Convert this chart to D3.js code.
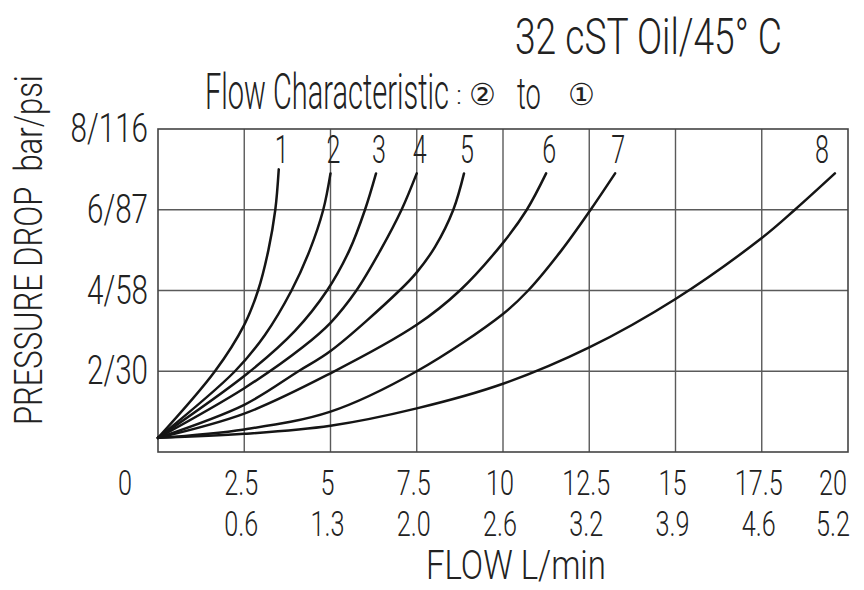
<!DOCTYPE html>
<html>
<head>
<meta charset="utf-8">
<script src="https://cdn.jsdelivr.net/npm/d3@7"></script>
<style>
  html, body { margin: 0; padding: 0; background: #fff; }
  svg { display: block; }
  text { font-family: Roboto, "DejaVu Sans", sans-serif; font-weight: 300; fill: #222; white-space: pre; }
</style>
</head>
<body>
<svg id="chart" width="864" height="590"></svg>
<script>
// ---- data ----
const titleLine1 = "32 cST Oil/45° C";
const titleLine2 = "Flow Characteristic";
const titlePorts = ["②", "to", "①"];
const yAxisTitle = "PRESSURE DROP\u00A0\u00A0bar/psi";
const xAxisTitle = "FLOW L/min";

const yTickValues = [8, 6, 4, 2];
const yTickLabels = ["8/116", "6/87", "4/58", "2/30"];
const xTickValues = [2.5, 5, 7.5, 10, 12.5, 15, 17.5, 20];
const xTickLabelsLpm = ["2.5", "5", "7.5", "10", "12.5", "15", "17.5", "20"];
const xTickLabelsGpm = ["0.6", "1.3", "2.0", "2.6", "3.2", "3.9", "4.6", "5.2"];

const curveNames = ["1", "2", "3", "4", "5", "6", "7", "8"];
// [flow L/min, pressure bar]
const curve1 = [[0,0.35],[1.65,2],[2.5,3.15],[2.9,4],[3.2,5],[3.4,6],[3.5,7.0]];
const curve2 = [[0,0.35],[2.23,2],[3.1,2.9],[3.87,4],[4.4,5],[4.79,6],[5.0,6.9]];
const curve3 = [[0,0.35],[2.6,1.95],[3.97,3],[4.9,4],[5.55,5],[6.0,6],[6.32,6.9]];
const curve4 = [[0,0.35],[2.5,1.58],[4.2,2.6],[5.0,3.2],[5.75,4],[6.45,5],[7.06,6],[7.5,6.9]];
const curve5 = [[0,0.35],[2.5,1.17],[4.07,2],[5.0,2.5],[7.0,4],[7.5,4.45],[8.03,5.08],[8.56,6],[8.87,6.9]];
const curve6 = [[0,0.35],[2.5,0.95],[5.0,1.95],[7.5,3.15],[8.75,4],[10.0,5.18],[10.69,6],[11.25,6.9]];
const curve7 = [[0,0.35],[2.5,0.56],[5.0,1.0],[7.5,2.0],[10.0,3.42],[10.73,4],[11.7,5],[12.54,6],[13.25,6.9]];
const curve8 = [[0,0.35],[2.5,0.45],[5.0,0.65],[7.5,1.08],[10.0,1.69],[12.5,2.59],[15.0,3.79],[17.5,5.3],[18.46,6],[19.62,6.9]];
const curves = [curve1, curve2, curve3, curve4, curve5, curve6, curve7, curve8];

// ---- layout ----
const svg = d3.select("#chart");
const x = d3.scaleLinear().domain([0, 20]).range([158, 848]);
const y = d3.scaleLinear().domain([0, 8]).range([452, 129]);

function label(g, str, px, py, size, sx, anchor) {
  return g.append("text")
    .attr("transform", `translate(${px},${py}) scale(${sx},1)`)
    .attr("text-anchor", anchor || "middle")
    .attr("font-size", size)
    .text(str);
}
// text squeezed horizontally to a target width (start-anchored)
function fitted(g, str, px, py, size, width, rotate) {
  const t = g.append("text").attr("font-size", size).text(str);
  const w = t.node().getComputedTextLength();
  const sx = width / w;
  t.attr("transform", `translate(${px},${py})${rotate ? " rotate(-90)" : ""} scale(${sx},1)`);
  return t;
}

// grid
const grid = svg.append("g").attr("stroke", "#5a5a5a").attr("stroke-width", 1.4);
grid.selectAll("line.v").data(xTickValues.filter(v => v < 20)).join("line")
  .attr("class", "v")
  .attr("x1", d => x(d)).attr("x2", d => x(d))
  .attr("y1", y(0)).attr("y2", y(8));
grid.selectAll("line.h").data(yTickValues.filter(v => v < 8)).join("line")
  .attr("class", "h")
  .attr("x1", x(0)).attr("x2", x(20))
  .attr("y1", d => y(d)).attr("y2", d => y(d));
svg.append("rect")
  .attr("x", x(0)).attr("y", y(8))
  .attr("width", x(20) - x(0)).attr("height", y(0) - y(8))
  .attr("fill", "none").attr("stroke", "#444").attr("stroke-width", 1.6);

// curves
const line = d3.line().x(d => x(d[0])).y(d => y(d[1])).curve(d3.curveCatmullRom.alpha(0.5));
svg.append("g").selectAll("path").data(curves).join("path")
  .attr("d", line)
  .attr("fill", "none").attr("stroke", "#151515").attr("stroke-width", 2.5)
  .attr("stroke-linecap", "round");

// curve labels
const cl = svg.append("g");
curves.forEach((c, i) => {
  const last = c[c.length - 1];
  const lx = Math.min(x(last[0]) + 3, x.range()[1] - 26);
  label(cl, curveNames[i], lx, 163, 38, 0.66);
});

// y tick labels
const yl = svg.append("g");
yTickValues.forEach((v, i) => {
  label(yl, yTickLabels[i], 148, y(v) + 13, 40, 0.74, "end");
});

// x tick labels
const xl = svg.append("g");
xTickValues.forEach((v, i) => {
  const px = Math.min(x(v), x.range()[1] - 12);
  label(xl, xTickLabelsLpm[i], px - 3, 495, 35, 0.72);
  label(xl, xTickLabelsGpm[i], px - 3, 536, 35, 0.72);
});
label(xl, "0", 125, 495, 35, 0.72);

// axis titles
fitted(svg, xAxisTitle, 426, 579, 40, 180, false);
fitted(svg, yAxisTitle, 42, 425, 38, 350, true);

// titles
fitted(svg, titleLine1, 515, 54, 50, 267, false);
fitted(svg, titleLine2, 205, 109, 50, 244, false);
label(svg, ":", 459, 104, 26, 1);
label(svg, titlePorts[0], 482, 105, 30, 1);
label(svg, titlePorts[1], 529, 109, 44, 0.62);
label(svg, titlePorts[2], 581, 105, 30, 1);
</script>
</body>
</html>
